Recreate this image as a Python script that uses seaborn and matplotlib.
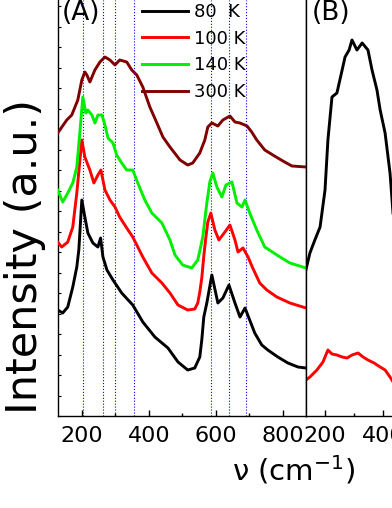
import numpy as np
import pandas as pd
import seaborn as sns
import matplotlib.pyplot as plt
from matplotlib.ticker import MultipleLocator

# Spectres Raman (nu en cm-1, intensite en u.a.)
nu_80 = [128, 143, 158, 173, 185, 191, 200, 209, 218, 233, 248, 256, 263, 275, 293, 319, 352, 382,
         418, 457, 487, 516, 537, 552, 558, 564, 573, 588, 606, 621, 639, 657, 672, 687, 701, 716,
         737, 755, 785, 815, 845, 869]
int_80 = [106, 103, 109, 129, 149, 166, 216, 199, 183, 173, 169, 178, 159, 146, 136, 123, 111, 94,
          79, 68, 54, 46, 48, 59, 76, 99, 113, 141, 113, 118, 131, 113, 99, 108, 96, 83,
          71, 66, 59, 53, 49, 48]

nu_100 = [128, 140, 158, 173, 185, 200, 209, 224, 236, 248, 257, 269, 284, 299, 313, 334, 352, 367,
          382, 409, 439, 463, 487, 516, 537, 546, 552, 558, 564, 570, 576, 585, 597, 609, 627, 642,
          657, 666, 681, 696, 710, 731, 752, 782, 821, 869]
int_100 = [174, 169, 174, 189, 223, 276, 259, 246, 233, 241, 246, 226, 216, 209, 199, 188, 179, 169,
           159, 143, 133, 123, 111, 106, 107, 113, 124, 138, 160, 178, 194, 203, 186, 176, 184, 191,
           176, 164, 168, 159, 148, 133, 126, 119, 113, 108]

nu_140 = [128, 143, 158, 173, 185, 194, 203, 212, 218, 230, 239, 248, 260, 269, 278, 293, 304, 319,
          334, 352, 367, 388, 409, 439, 463, 478, 501, 528, 546, 561, 573, 582, 591, 603, 618, 630,
          648, 663, 678, 687, 701, 722, 746, 782, 821, 869]
int_140 = [226, 214, 223, 233, 249, 283, 319, 303, 306, 301, 293, 301, 301, 291, 278, 273, 261, 253,
           246, 246, 233, 216, 203, 193, 176, 161, 151, 148, 156, 179, 213, 234, 243, 229, 219, 231,
           234, 213, 209, 216, 203, 186, 169, 161, 153, 148]

nu_300 = [128, 155, 170, 188, 200, 209, 215, 224, 239, 254, 269, 284, 299, 313, 334, 349, 364, 382,
          403, 424, 442, 463, 493, 516, 531, 552, 567, 576, 588, 606, 621, 642, 657, 672, 693, 707,
          722, 746, 770, 800, 827, 869]
int_300 = [283, 296, 301, 316, 336, 344, 341, 334, 346, 354, 359, 356, 351, 356, 354, 346, 341, 329,
           309, 293, 279, 269, 256, 251, 253, 263, 276, 289, 293, 290, 296, 300, 294, 293, 290, 284,
           276, 266, 261, 255, 250, 249]

# Panneau (B)
nu_b = [134, 148, 165, 183, 200, 210, 224, 241, 259, 269, 283, 293, 310, 328, 348, 362, 379, 390,
        407, 424, 431, 441, 459]
int_b_noir = [146, 163, 176, 189, 226, 276, 319, 323, 346, 359, 366, 376, 366, 373, 366, 346, 326, 306,
              283, 243, 216, 176, 136]
nu_b_rouge = [134, 148, 172, 193, 210, 224, 241, 259, 276, 293, 314, 331, 348, 369, 390, 407, 424, 441]
int_b_rouge = [36, 39, 46, 54, 66, 62, 61, 59, 58, 61, 63, 59, 56, 53, 49, 46, 39, 31]

# Positions des raies (lignes pointillees bleues)
raies = [204, 262, 299, 356, 586, 640, 689]

series = [("80  K", nu_80, int_80, "black"),
          ("100 K", nu_100, int_100, "#ff0000"),
          ("140 K", nu_140, int_140, "#00ee00"),
          ("300 K", nu_300, int_300, "#800000")]

plt.rcParams['font.family'] = ['DejaVu Sans']
W, H = 392, 508
fig = plt.figure(figsize=(W / 100, H / 100), dpi=100)

ax = fig.add_axes([57.7 / W, (H - 416) / H, (306 - 57.7) / W, 416 / H])
ax_b = fig.add_axes([306 / W, (H - 416) / H, 174 / W, 416 / H])

for r in raies:
    ax.axvline(r, color="blue", ls=":", lw=0.8, zorder=1)

for label, x, y, c in series:
    df = pd.DataFrame({"nu": x, "I": y})
    sns.lineplot(data=df, x="nu", y="I", color=c, lw=2.1, label=label, sort=False, ax=ax, zorder=3)

sns.lineplot(x=nu_b, y=int_b_noir, color="black", lw=2.1, sort=False, ax=ax_b)
sns.lineplot(x=nu_b_rouge, y=int_b_rouge, color="#ff0000", lw=2.1, sort=False, ax=ax_b)

ax.set_xlim(128, 869)
ax.set_ylim(0, 416)
ax_b.set_xlim(134.5, 734)
ax_b.set_ylim(0, 416)

for a in (ax, ax_b):
    a.set_xlabel("")
    a.set_ylabel("")
    a.spines["top"].set_visible(False)
    a.xaxis.set_major_locator(MultipleLocator(200))
    a.xaxis.set_minor_locator(MultipleLocator(100))
    a.tick_params(axis="x", which="major", direction="in", length=4, width=1, labelsize=16, pad=7)
    a.tick_params(axis="x", which="minor", direction="in", length=2.5, width=1)
    for s in a.spines.values():
        s.set_linewidth(1)

ax.yaxis.set_major_locator(MultipleLocator(20.5))
ax.tick_params(axis="y", direction="in", length=2, width=0.8, labelleft=False)
ax_b.spines["right"].set_visible(False)
ax_b.set_yticks([])

ax.legend(loc="upper left", bbox_to_anchor=(142 / W, 1 - 3 / H), bbox_transform=fig.transFigure,
          frameon=False, fontsize=13, handlelength=2.55, handletextpad=0.33,
          labelspacing=0.48, borderpad=0, borderaxespad=0)

fig.text(81 / W, 1 - 13 / H, "(A)", fontsize=19, ha="center", va="center")
fig.text(331.5 / W, 1 - 13 / H, "(B)", fontsize=19, ha="center", va="center")
fig.text(25 / W, 1 - 257 / H, "Intensity (a.u.)", fontsize=31, rotation=90, ha="center", va="center")
fig.text(294 / W, 1 - 470 / H, "ν (cm$^{-1}$)", fontsize=21, ha="center", va="center")

fig.savefig("out.png", dpi=100)
